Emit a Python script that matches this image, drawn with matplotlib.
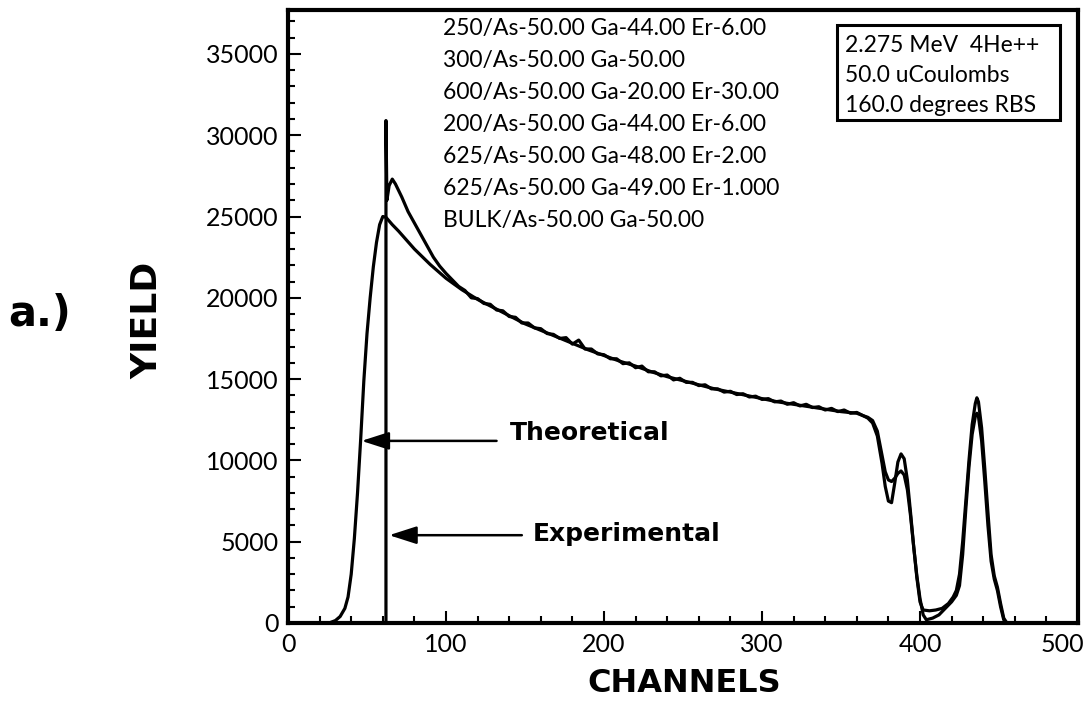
import matplotlib
matplotlib.use('Agg')
import matplotlib.pyplot as plt
from matplotlib.patches import Rectangle
from matplotlib.ticker import MultipleLocator

# ── DATA ──────────────────────────────────────────────────────────────────────
theo_ch = [26, 30, 33, 36, 38, 40, 42, 44, 46, 48, 50, 52, 54, 56, 58, 60, 62,
           66, 70, 80, 90, 100, 110, 120, 130, 140, 150, 160, 170, 180, 190,
           200, 210, 220, 230, 240, 250, 260, 270, 280, 290, 300, 310, 320,
           330, 340, 350, 360, 364, 367, 370, 373, 376, 378, 380, 382, 384,
           386, 388, 390, 392, 394, 396, 398, 400, 402, 406, 410, 414, 418,
           421, 423, 425, 427, 429, 431, 433, 435, 436, 437, 439, 441, 443,
           445, 447, 449, 451, 453, 455]
theo_yield = [0, 150, 400, 900, 1600, 3000, 5200, 8000, 11300, 14900, 17800,
              20000, 21900, 23400, 24500, 25000, 24950, 24500, 24100, 23000,
              22050, 21200, 20500, 19900, 19400, 18900, 18400, 18000, 17600,
              17200, 16800, 16450, 16100, 15800, 15450, 15150, 14900, 14650,
              14400, 14200, 14000, 13800, 13600, 13450, 13300, 13150, 13000,
              12900, 12750, 12600, 12300, 11500, 9800, 8400, 7500, 7400, 8600,
              9900, 10400, 10100, 8800, 6800, 4700, 2800, 1300, 800, 750, 800,
              900, 1200, 1600, 2000, 3000, 5000, 7500, 10000, 12200, 13500,
              13850, 13600, 12000, 9500, 6800, 4200, 2900, 2200, 1200, 300, 0]

exp_ch = [62, 62, 62.6, 64, 66, 68, 70, 72, 76, 80, 84, 88, 92, 96,
          100, 104, 108, 112, 116, 120, 124, 128, 132, 136, 140, 144, 148,
          152, 156, 160, 164, 168, 172, 176, 180, 184, 188, 192, 196, 200,
          204, 208, 212, 216, 220, 224, 228, 232, 236, 240, 244, 248, 252,
          256, 260, 264, 268, 272, 276, 280, 284, 288, 292, 296, 300, 304,
          308, 312, 316, 320, 324, 328, 332, 336, 340, 344, 348, 352, 356,
          360, 364, 367, 370, 373, 376, 378, 380, 382, 384, 386, 388, 390,
          392, 394, 396, 398, 400, 402, 404, 408, 412, 416, 420, 423, 425,
          427, 429, 431, 433, 435, 436, 437, 439, 441, 443, 445, 447, 449,
          451, 453, 455, 462]
exp_yield = [0, 30900, 26000, 26900, 27300, 27000, 26600, 26200, 25300, 24600,
             23900, 23200, 22500, 21950,
             21500, 21100, 20700, 20450, 20000, 19950, 19650, 19600, 19250,
             19200, 18850, 18800, 18450, 18450, 18150, 18100, 17800, 17750,
             17500, 17550, 17150, 17400, 16850, 16850, 16550, 16500, 16250,
             16250, 15950, 16000, 15700, 15800, 15450, 15450, 15200, 15250,
             14950, 15050, 14800, 14800, 14600, 14650, 14400, 14400, 14200,
             14250, 14050, 14100, 13900, 13950, 13750, 13800, 13600, 13650,
             13450, 13550, 13350, 13450, 13250, 13300, 13100, 13200, 13000,
             13100, 12900, 12950, 12750, 12650, 12450, 11800, 10300, 9300,
             8800, 8700, 8900, 9200, 9350, 9100, 8200, 6600, 4700, 2900, 1500,
             500, 200, 300, 500, 900, 1300, 1700, 2300, 4200, 7000, 9600,
             11600, 12700, 12900, 12700, 11200, 8700, 6000, 3800, 2700, 2000,
             1000, 200, 0, 0]

x_ticks = [0, 100, 200, 300, 400, 500]
x_tick_labels = ['0', '100', '200', '300', '400', '500']

legend_lines = ['250/As-50.00 Ga-44.00 Er-6.00',
                '300/As-50.00 Ga-50.00',
                '600/As-50.00 Ga-20.00 Er-30.00',
                '200/As-50.00 Ga-44.00 Er-6.00',
                '625/As-50.00 Ga-48.00 Er-2.00',
                '625/As-50.00 Ga-49.00 Er-1.000',
                'BULK/As-50.00 Ga-50.00']
info_lines = ['2.275 MeV  4He++', '50.0 uCoulombs', '160.0 degrees RBS']

W, H = 1088, 714


def fx(px):
    return px / W


def fy(py):
    return 1 - py / H


fig = plt.figure(figsize=(W / 100, H / 100), dpi=100)
fig.patch.set_facecolor('white')
ax = fig.add_axes([fx(288), fy(623), (1078 - 288) / W, (623 - 10) / H])

ax.plot(theo_ch, theo_yield, color='black', lw=2.3, solid_joinstyle='round')
ax.plot(exp_ch, exp_yield, color='black', lw=2.3, solid_joinstyle='round')

ax.set_xlim(0, 500)
ax.set_ylim(0, 37700)
# the last label would hang over the page edge, so it is placed by hand below
ax.set_xticks(x_ticks, x_tick_labels[:-1] + [''], family='Lato')
ax.xaxis.set_minor_locator(MultipleLocator(20))
ax.yaxis.set_major_locator(MultipleLocator(5000))
ax.yaxis.set_minor_locator(MultipleLocator(1000))
ax.tick_params(which='both', direction='in', top=False, right=False,
               width=1.5, labelsize=18)
ax.tick_params(which='major', length=9)
ax.tick_params(which='minor', length=5)
ax.tick_params(axis='y', pad=7)
ax.tick_params(axis='x', pad=7)
for lab in ax.get_yticklabels():
    lab.set_family('Lato')
for sp in ax.spines.values():
    sp.set_linewidth(3)
fig.text(fx(1062), fy(644), x_tick_labels[-1], fontsize=18, family='Lato',
         ha='center', va='center')

# arrows with bold labels
arrow_kw = dict(arrowstyle='-|>,head_length=1.4,head_width=0.45',
                color='black', lw=1.8, mutation_scale=12, shrinkA=0, shrinkB=0)
ax.annotate('', xy=(46.5, 11200), xytext=(132, 11200), arrowprops=arrow_kw)
ax.annotate('', xy=(64, 5400), xytext=(148, 5400), arrowprops=arrow_kw)
fig.text(fx(510), fy(433), 'Theoretical', fontsize=18, fontweight='bold',
         family='DejaVu Sans', va='center', ha='left')
fig.text(fx(533), fy(534), 'Experimental', fontsize=18, fontweight='bold',
         family='DejaVu Sans', va='center', ha='left')

# spectrum legend
for i, line in enumerate(legend_lines):
    fig.text(fx(443), fy(29 + 32 * i), line, fontsize=16.5, family='Lato',
             va='center', ha='left')

# beam info box
fig.patches.append(Rectangle((fx(837), fy(120)), (1060 - 837) / W, (120 - 25) / H,
                             transform=fig.transFigure, fill=False,
                             edgecolor='black', lw=2.2))
for i, line in enumerate(info_lines):
    fig.text(fx(845), fy(46 + 30 * i), line, fontsize=16.5, family='Lato',
             va='center', ha='left')

# axis titles
fig.text(fx(684), fy(683), 'CHANNELS', fontsize=23, fontweight='heavy',
         family='DejaVu Sans', ha='center', va='center')
fig.text(fx(147), fy(320), 'YIELD', fontsize=26, fontweight='heavy',
         family='DejaVu Sans', ha='center', va='center', rotation=90)
fig.text(fx(40), fy(314), 'a.)', fontsize=30, fontweight='heavy',
         family='DejaVu Sans', ha='center', va='center')

fig.savefig('out.png', dpi=100, facecolor='white')
